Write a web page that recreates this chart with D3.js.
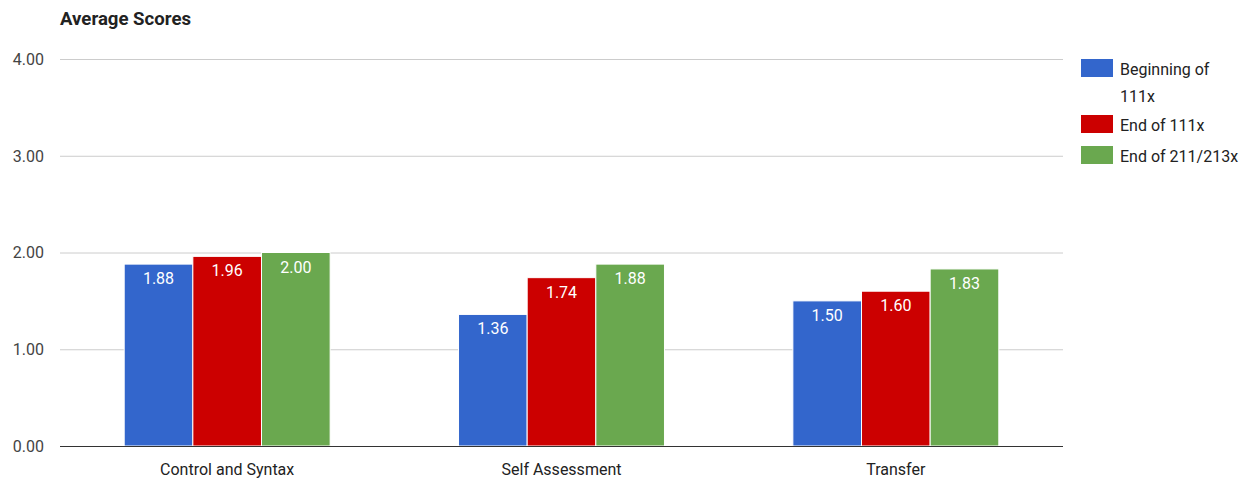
<!DOCTYPE html>
<html><head><meta charset="utf-8">
<script src="https://cdn.jsdelivr.net/npm/d3@7"></script>
<style>body{margin:0;background:#fff;} svg{display:block;font-family:Roboto,"Liberation Sans",sans-serif;}</style>
</head><body>
<svg id="c" width="1251" height="481"></svg>
<script>
const categories = ["Control and Syntax", "Self Assessment", "Transfer"];
const seriesNames = ["Beginning of 111x", "End of 111x", "End of 211/213x"];
const beginning111x = [1.88, 1.36, 1.50];
const end111x = [1.96, 1.74, 1.60];
const end211213x = [2.00, 1.88, 1.83];
const yTicks = [0, 1, 2, 3, 4];
const colors = ["#3366cc", "#cc0000", "#6aa84f"];
const title = "Average Scores";

(function () {
const seriesValues = [beginning111x, end111x, end211213x];
const svg = d3.select("#c");
const pLeft = 60, pRight = 1063, pTop = 59, pBottom = 446;

const y = d3.scaleLinear().domain([0, 4]).range([pBottom, pTop]);
const x0 = d3.scaleBand().domain(categories).range([pLeft, pRight]).paddingInner(0.384).paddingOuter(0.192);
const x1 = d3.scaleBand().domain(seriesNames).range([0, x0.bandwidth()]);

svg.append("text").attr("x", 60).attr("y", 25).attr("font-size", 18).attr("font-weight", "bold")
  .attr("fill", "#222").attr("textLength", 131).attr("lengthAdjust", "spacingAndGlyphs").text(title);

svg.append("g").selectAll("line").data(yTicks.filter(d => d > 0)).join("line")
  .attr("x1", pLeft).attr("x2", pRight).attr("y1", d => y(d) + 0.5).attr("y2", d => y(d) + 0.5)
  .attr("stroke", "#cccccc").attr("stroke-width", 1);

svg.append("g").selectAll("text").data(yTicks).join("text")
  .attr("x", 44).attr("y", d => y(d)).attr("dy", "0.36em").attr("text-anchor", "end")
  .attr("font-size", 16).attr("fill", "#444").text(d => d3.format(".2f")(d));

const data = [];
categories.forEach((c, i) => seriesNames.forEach((s, j) => data.push({c, s, j, v: seriesValues[j][i]})));

const g = svg.append("g");
g.selectAll("rect").data(data).join("rect")
  .attr("x", d => x0(d.c) + x1(d.s))
  .attr("width", x1.bandwidth())
  .attr("y", d => y(d.v))
  .attr("height", d => y(0) - y(d.v))
  .attr("fill", d => colors[d.j])
  .attr("stroke", "#fff").attr("stroke-width", 1);

g.selectAll("text").data(data).join("text")
  .attr("x", d => x0(d.c) + x1(d.s) + x1.bandwidth() / 2)
  .attr("y", d => y(d.v) + 20)
  .attr("text-anchor", "middle").attr("font-size", 16).attr("fill", "#fff")
  .text(d => d3.format(".2f")(d.v));

svg.append("line").attr("x1", pLeft).attr("x2", pRight).attr("y1", pBottom + 0.5).attr("y2", pBottom + 0.5)
  .attr("stroke", "#333").attr("stroke-width", 1);

svg.append("g").selectAll("text").data(categories).join("text")
  .attr("x", d => x0(d) + x0.bandwidth() / 2).attr("y", 475)
  .attr("text-anchor", "middle").attr("font-size", 16).attr("fill", "#222").text(d => d);

const legendLines = [["Beginning of", "111x"], ["End of 111x"], ["End of 211/213x"]];
const legendY = [59, 115, 146];
const lg = svg.append("g");
seriesNames.forEach((s, j) => {
  lg.append("rect").attr("x", 1081).attr("y", legendY[j]).attr("width", 32).attr("height", 18).attr("fill", colors[j]);
  legendLines[j].forEach((t, k) => {
    lg.append("text").attr("x", 1120).attr("y", legendY[j] + 16 + k * 27).attr("font-size", 16)
      .attr("fill", "#222").text(t);
  });
});
})();
</script>
</body></html>
